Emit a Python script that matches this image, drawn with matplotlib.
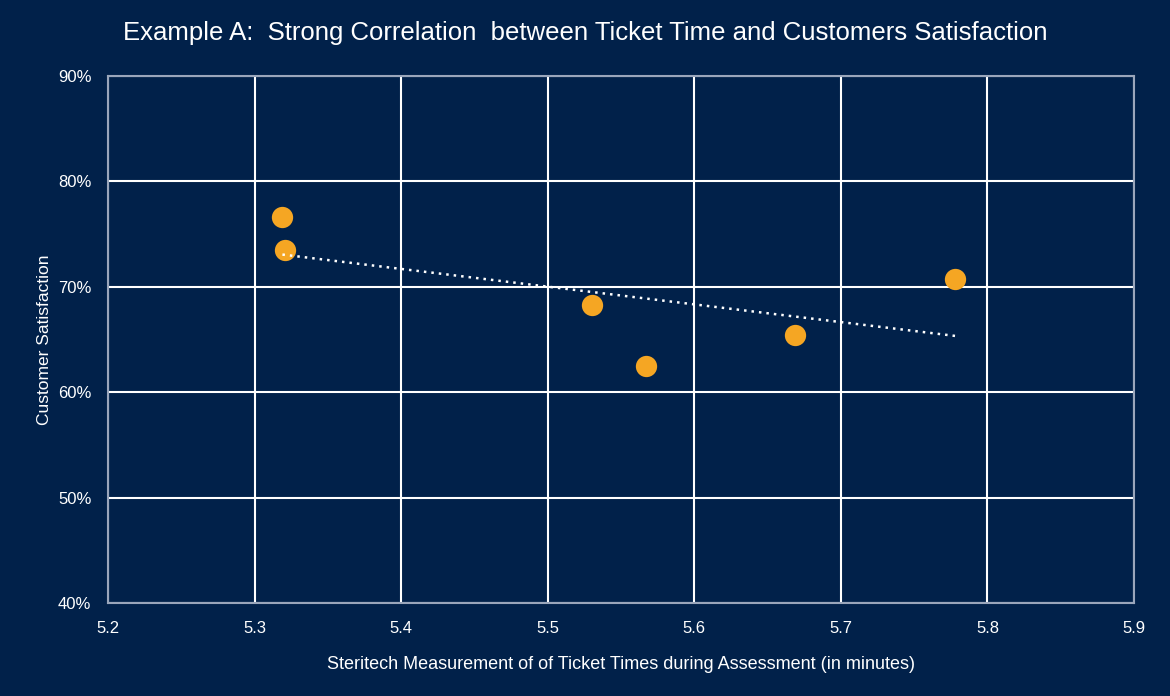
import matplotlib.pyplot as plt
import numpy as np

# ticket time (minutes) vs customer satisfaction
ticket_time = [5.319, 5.321, 5.530, 5.567, 5.669, 5.778]
satisfaction = [0.766, 0.735, 0.683, 0.625, 0.654, 0.707]
x_ticks = [5.2, 5.3, 5.4, 5.5, 5.6, 5.7, 5.8, 5.9]
y_ticks = [0.4, 0.5, 0.6, 0.7, 0.8, 0.9]

bg = '#01214a'
font = ['Liberation Sans', 'DejaVu Sans']

fig = plt.figure(figsize=(11.7, 6.96), dpi=100, facecolor=bg)
ax = fig.add_axes([0.0923, 0.1336, 0.8769, 0.7572], facecolor=bg)

ax.scatter(ticket_time, satisfaction, s=235, color='#f5a623', zorder=3, linewidths=0)

# linear trendline
coef = np.polyfit(ticket_time, satisfaction, 1)
tx = np.array([min(ticket_time), max(ticket_time)])
ax.plot(tx, np.polyval(coef, tx), color='white', linestyle=(0, (1, 2)), linewidth=1.8, zorder=4)

ax.set_xlim(5.2, 5.9)
ax.set_ylim(0.4, 0.9)
ax.set_xticks(x_ticks)
ax.set_yticks(y_ticks)
ax.set_xticklabels([f'{v:.1f}' for v in x_ticks], family=font, fontsize=12, color='white')
ax.set_yticklabels([f'{v*100:.0f}%' for v in y_ticks], family=font, fontsize=12, color='white')
ax.tick_params(length=0, pad=12)
ax.tick_params(axis='x', pad=13)
ax.grid(True, color='white', linewidth=1.5)
ax.set_axisbelow(True)
for s in ax.spines.values():
    s.set_color('#9aa6bb')
    s.set_linewidth(1.5)

ax.set_xlabel('Steritech Measurement of of Ticket Times during Assessment (in minutes)',
              family=font, fontsize=13, color='white', labelpad=14)
ax.set_ylabel('Customer Satisfaction', family=font, fontsize=12.5, color='white', labelpad=4)

fig.text(0.5, 0.952, 'Example A:  Strong Correlation  between Ticket Time and Customers Satisfaction',
         ha='center', va='center', family=font, fontsize=18.5, color='white')

fig.savefig('out.png', dpi=100, facecolor=bg)
